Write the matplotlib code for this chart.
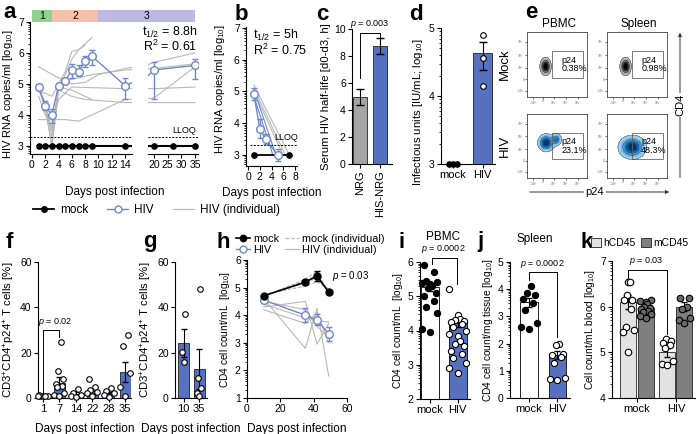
import numpy as np
import matplotlib
matplotlib.use("Agg")
import matplotlib.pyplot as plt
from matplotlib.patches import Rectangle, FancyArrowPatch, Patch
from matplotlib.lines import Line2D
from matplotlib.ticker import FixedLocator

plt.rcParams["font.family"] = ["Liberation Sans", "DejaVu Sans"]
plt.rcParams["mathtext.fontset"] = "custom"
plt.rcParams["mathtext.rm"] = "Liberation Sans"
plt.rcParams["mathtext.it"] = "Liberation Sans:italic"
plt.rcParams["font.size"] = 7.5
plt.rcParams["axes.linewidth"] = 0.8

W, H = 696, 434

BLUE = "#5671c0"
LINE_BLUE = "#7088c8"
GREY_LINE = "#b8b8b8"
EDGE = "#222222"

# ------------------------------------------------------------------ #
# data                               #
# ------------------------------------------------------------------ #
phase_bounds = [0, 3, 10, 35]
phase_labels = ["1", "2", "3"]
phase_colors = ["#8fd38f", "#f6c1a8", "#bdb9e3"]

a_days = [1, 2, 3, 4, 5, 6, 7, 8, 9, 14, 20, 35]
a_hiv = [4.9, 4.3, 4.0, 4.95, 5.1, 5.45, 5.4, 5.75, 5.9, 4.95, 5.45, 5.6]
a_err_lo = [0.1, 0.15, 0.25, 0.07, 0.1, 0.25, 0.15, 0.2, 0.3, 0.45, 0.95, 0.45]
a_err_hi = [0.1, 0.15, 0.2, 0.07, 0.1, 0.2, 0.2, 0.15, 0.2, 0.25, 0.27, 0.2]
a_mock_days = [1, 2, 3, 4, 5, 6, 7, 8, 9, 14, 20, 27, 35]
a_mock = [3.0, 3.0, 3.0, 3.0, 3.0, 3.0, 3.0, 3.0, 3.0, 3.0, 3.0, 3.0, 3.0]
a_indiv_days = [
    [1, 2, 3, 4, 5, 6, 7, 8, 9],
    [1, 2, 3, 4, 5, 6, 7, 8],
    [1, 4, 6, 8, 10, 14, 20, 35],
    [1, 2, 3, 4, 5, 7, 9, 14, 20, 35],
    [1, 2, 3, 4, 6, 8, 14, 20, 35],
    [1, 3, 5, 7, 14, 20, 35],
    [1, 2, 3, 4, 5, 6, 14, 20, 35],
    [2, 3, 4, 6, 8, 9],
]
a_indiv_vals = [
    [4.95, 4.2, 3.0, 4.8, 5.3, 5.8, 6.1, 6.3, 6.5],
    [4.85, 4.4, 3.3, 5.0, 5.4, 6.05, 6.1, 6.25],
    [5.55, 5.2, 5.0, 5.05, 5.3, 5.5, 5.7, 6.0],
    [4.75, 4.7, 4.6, 5.0, 5.1, 5.2, 5.3, 5.45, 5.5, 5.65],
    [4.8, 4.3, 3.5, 4.8, 4.6, 4.5, 4.4, 4.4, 4.4],
    [3.85, 3.85, 3.85, 3.8, 4.5, 4.55, 5.55],
    [4.6, 4.0, 3.6, 4.5, 4.7, 4.9, 4.85, 4.85, 4.9],
    [4.3, 3.0, 4.9, 4.8, 4.6, 4.5],
]

b_days = [1, 2, 3, 5]
b_hiv = [4.92, 3.82, 3.5, 3.0]
b_err = [0.2, 0.3, 0.15, 0.2]
b_mock_days = [1, 5, 7]
b_mock = [3.0, 3.0, 3.0]
b_grey_fits = [([1, 7], [5.2, 3.0]), ([1, 6.3], [5.1, 3.0]), ([1, 5.8], [5.0, 3.05])]
b_blue_fits = [([1, 5], [5.05, 2.85]), ([1, 4.2], [4.85, 3.0])]

c_groups = ["NRG", "HIS-NRG"]
c_mean = [4.95, 8.75]
c_sem = [0.6, 0.6]

d_groups = ["mock", "HIV"]
d_mock_pts = [3.0, 3.0, 3.0]
d_hiv_pts = [4.9, 4.56, 4.15]
d_hiv_mean = 4.63
d_hiv_err = [[0.25], [0.16]]

e_cols = ["PBMC", "Spleen"]
e_rows = ["Mock", "HIV"]
e_freq = [["0.38%", "0.98%"], ["23.1%", "48.3%"]]

f_days = ["1", "7", "14", "22", "28", "35"]
f_mean = [1.0, 6.8, 1.8, 3.0, 2.0, 11.5]
f_sem = [0.1, 2.3, 0.7, 1.1, 0.8, 4.5]
f_pts = [
    [1.0, 0.8, 1.2, 1.0, 0.9, 1.1],
    [24.5, 12.0, 8.5, 6.0, 5.5, 5.0, 2.0, 1.5, 1.0],
    [4.0, 2.2, 1.5, 1.0, 0.5],
    [8.5, 5.0, 3.5, 2.5, 2.2, 1.0],
    [4.5, 3.0, 2.0, 1.2, 0.5],
    [28.0, 23.0, 11.0, 5.0, 1.0],
]

g_days = ["10", "35"]
g_mean = [24.4, 12.8]
g_sem = [6.2, 9.0]
g_pts = [[37.0, 20.5, 16.0], [48.0, 9.0, 4.4, 2.2, 1.0]]

h_days = [10, 35, 42, 49]
h_mock = [4.7, 5.2, 5.42, 4.84]
h_mock_err = [0.05, 0.07, 0.17, 0.06]
h_hiv = [4.55, 4.0, 3.83, 3.32]
h_hiv_err = [0.08, 0.25, 0.2, 0.25]
h_mock_indiv = [
    [4.72, 5.15, 5.55, 4.75],
    [4.7, 5.25, 5.3, 4.9],
    [4.75, 5.05, 5.2, 4.95],
    [4.68, 5.3, 5.6, 4.8],
]
h_hiv_indiv = [
    [4.6, 2.8, 4.25, 1.8],
    [4.3, 4.5, 2.95, 3.7],
    [4.4, 3.9, 3.8, 3.75],
    [4.2, 3.7, 4.1, 3.0],
    [4.5, 4.2, 3.6, 3.2],
]

i_mock_pts = [5.9, 5.7, 5.45, 5.42, 5.4, 5.35, 5.3, 5.25, 5.1, 5.0, 4.85, 4.7, 4.5, 4.05, 3.95]
i_hiv_pts = [5.2, 4.45, 4.35, 4.3, 4.28, 4.25, 4.2, 4.1, 4.0, 3.9, 3.85, 3.7, 3.6, 3.55,
             3.4, 3.3, 3.2, 3.05, 2.9, 2.75]
i_mean = [5.28, 4.25]
i_sem = [0.12, 0.15]

j_mock_pts = [4.12, 3.85, 3.8, 3.65, 3.5, 3.25, 2.75, 2.6, 2.55]
j_hiv_pts = [2.0, 1.95, 1.6, 1.58, 1.5, 1.3, 0.75, 0.7, 0.68]
j_mean = [3.52, 1.58]
j_sem = [0.17, 0.13]

k_groups = ["mock", "HIV"]
k_h_mean = [6.1, 5.0]
k_h_sem = [0.15, 0.1]
k_m_mean = [5.97, 6.0]
k_m_sem = [0.04, 0.1]
k_h_pts = [[6.55, 6.55, 6.25, 6.15, 6.15, 5.95, 5.55, 5.5, 5.45, 5.0],
           [5.3, 5.25, 5.2, 5.15, 5.1, 4.8, 4.75, 4.72]]
k_m_pts = [[6.15, 6.12, 6.1, 6.05, 6.0, 5.98, 5.95, 5.9, 5.88, 5.85, 5.8, 5.75],
           [6.2, 6.18, 6.0, 5.95, 5.75, 5.7, 5.65]]

# ------------------------------------------------------------------ #
# helpers                                                            #
# ------------------------------------------------------------------ #
fig = plt.figure(figsize=(W / 100, H / 100), dpi=100)


def px_axes(x0, y0, x1, y1):
    return fig.add_axes([x0 / W, 1 - y1 / H, (x1 - x0) / W, (y1 - y0) / H])


def ftext(x, y, s, **kw):
    return fig.text(x / W, 1 - y / H, s, **kw)


def style(ax):
    for s in ("top", "right"):
        ax.spines[s].set_visible(False)
    ax.tick_params(length=3, width=0.8, pad=1.5, labelsize=7.5)


def log_minor(ax, lo, hi):
    mt = [d + np.log10(k) for d in range(lo, hi) for k in range(2, 10)]
    ax.yaxis.set_minor_locator(FixedLocator(mt))
    ax.tick_params(axis="y", which="minor", length=1.6, width=0.6)


def swarm(vals, width):
    pattern = np.array([0, -1, 1, -0.5, 0.5, -0.75, 0.75, -0.25, 0.25])
    order = np.argsort(vals)
    off = np.zeros(len(vals))
    for rank, idx in enumerate(order):
        off[idx] = pattern[rank % len(pattern)] * width
    return off


def dots(ax, x, pts, width, fc, s=16):
    ax.scatter(x + swarm(pts, width), pts, s=s, fc=fc, ec="k", lw=0.8,
               zorder=4, clip_on=False)


def bracket(ax, x0, x1, y, y0, y1, label, tx, ty, ha="center"):
    ax.plot([x0, x0, x1, x1], [y0, y, y, y1], color="k", lw=0.7, clip_on=False, zorder=5)
    ax.text(tx, ty, label, ha=ha, va="bottom", fontsize=6.5, clip_on=False)


YL = dict(fontsize=8.2, labelpad=2)
YL_SMALL = dict(fontsize=7.3, labelpad=2)

# ------------------------------------------------------------------ #
# a                                                                  #
# ------------------------------------------------------------------ #
ax_a1 = px_axes(30, 22, 132, 154)
ax_a2 = px_axes(148, 22, 198, 154)
for ax, xl in ((ax_a1, (-0.3, 15.05)), (ax_a2, (17.8, 36.1))):
    style(ax)
    ax.set_xlim(xl)
    ax.set_ylim(2.74, 7)
    for d, v in zip(a_indiv_days, a_indiv_vals):
        ax.plot(d, v, color=GREY_LINE, lw=0.8, zorder=1)
    ax.axhline(3.3, color="k", ls=(0, (2, 1.5)), lw=0.7, zorder=2)
    ax.plot(a_mock_days, a_mock, "-o", color="k", ms=3.8, lw=1.5, zorder=3)
    ax.errorbar(a_days, a_hiv, yerr=[a_err_lo, a_err_hi], fmt="-o", color=LINE_BLUE,
                mfc="white", mec=LINE_BLUE, ms=5.5, lw=1, capsize=2.5, elinewidth=1,
                mew=1, zorder=4)
ax_a1.set_xticks(range(0, 15, 2))
ax_a1.set_yticks([3, 4, 5, 6, 7])
log_minor(ax_a1, 2, 7)
ax_a1.set_ylabel("HIV RNA copies/ml [log$_{10}$]", fontsize=8)
ax_a1.yaxis.set_label_coords(-0.15, 0.45)
ax_a2.set_xticks([20, 25, 30, 35])
ax_a2.spines["left"].set_visible(False)
ax_a2.set_yticks([])
ax_a2.text(35.5, 3.36, "LLOQ", ha="right", va="bottom", fontsize=6.5)
ax_a2.text(36, 6.65, "t$_{1/2}$ = 8.8h", ha="right", va="center", fontsize=9, clip_on=False)
ax_a2.text(36, 6.2, "R$^{2}$ = 0.61", ha="right", va="center", fontsize=9, clip_on=False)
ftext(115, 192, "Days post infection", ha="center", va="center", fontsize=8.5)

# phase bar, positioned through the data transforms of the two segments
fig.canvas.draw()
inv = fig.transFigure.inverted()
xs = [inv.transform(ax_a1.transData.transform((d, 0)))[0] for d in phase_bounds[:3]]
xs.append(inv.transform(ax_a2.transData.transform((phase_bounds[3], 0)))[0])
yb0, yb1 = 1 - 22 / H, 1 - 10 / H
for k in range(3):
    fig.add_artist(Rectangle((xs[k], yb0), xs[k + 1] - xs[k], yb1 - yb0,
                             transform=fig.transFigure, fc=phase_colors[k], ec="none"))
    fig.text((xs[k] + xs[k + 1]) / 2, (yb0 + yb1) / 2, phase_labels[k], ha="center",
             va="center", fontsize=7.5)

# ------------------------------------------------------------------ #
# b                                                                  #
# ------------------------------------------------------------------ #
ax_b = px_axes(246, 27, 297, 166)
style(ax_b)
ax_b.set_xlim(-0.34, 8.3)
ax_b.set_ylim(2.65, 7.03)
for xx, yy in b_grey_fits:
    ax_b.plot(xx, yy, color=GREY_LINE, lw=0.8, zorder=1)
for xx, yy in b_blue_fits:
    ax_b.plot(xx, yy, color=LINE_BLUE, lw=0.8, zorder=2)
ax_b.axhline(3.3, xmin=0.08, color="k", ls=(0, (2, 1.5)), lw=0.7)
ax_b.plot(b_mock_days, b_mock, "-o", color="k", ms=3.8, lw=1.3, zorder=3)
ax_b.errorbar(b_days, b_hiv, yerr=b_err, fmt="-o", color=LINE_BLUE, mfc="white",
              mec=LINE_BLUE, ms=5.5, lw=1, capsize=2.5, mew=1, zorder=4)
ax_b.set_xticks([0, 2, 4, 6, 8])
ax_b.set_yticks([3, 4, 5, 6, 7])
log_minor(ax_b, 2, 7)
ax_b.set_ylabel("HIV RNA copies/ml [log$_{10}$]", fontsize=8)
ax_b.yaxis.set_label_coords(-0.38, 0.55)
ax_b.text(8.4, 3.4, "LLOQ", ha="right", va="bottom", fontsize=6.5, clip_on=False)
ax_b.text(0.9, 6.75, "t$_{1/2}$ = 5h", ha="left", va="center", fontsize=9)
ax_b.text(0.9, 6.3, "R$^{2}$ = 0.75", ha="left", va="center", fontsize=9)
ftext(272, 193, "Days post infection", ha="center", va="center", fontsize=8.5)

# legend for a/b
hdl = [Line2D([], [], color="k", marker="o", ms=4, lw=1.3),
       Line2D([], [], color=LINE_BLUE, marker="o", mfc="white", ms=5, lw=1),
       Line2D([], [], color=GREY_LINE, lw=0.9)]
fig.legend(hdl, ["mock", "HIV", "HIV (individual)"], ncol=3, loc="center left",
           bbox_to_anchor=(27 / W, 1 - 210 / H), frameon=False, fontsize=8.5,
           handlelength=1.8, handletextpad=0.5, columnspacing=1.6, borderpad=0)

# ------------------------------------------------------------------ #
# c                                                                  #
# ------------------------------------------------------------------ #
ax_c = px_axes(352, 29, 392, 164)
style(ax_c)
xc = np.arange(len(c_groups))
ax_c.bar(xc, c_mean, width=0.7, color=["#a5a5a5", BLUE], edgecolor=EDGE, lw=0.6)
ax_c.errorbar(xc, c_mean, yerr=c_sem, fmt="none", ecolor="k", elinewidth=0.8, capsize=3)
ax_c.set_xlim(-0.4, 1.6)
ax_c.set_ylim(0, 10)
ax_c.set_yticks(range(0, 11, 2))
ax_c.set_xticks(xc)
ax_c.set_xticklabels(c_groups, rotation=90, fontsize=8)
ax_c.set_ylabel("Serum HIV half-life [d0-d3, h]", **YL)
bracket(ax_c, 0, 1, 9.7, 6.4, 9.36, "$p$ = 0.003", 0.5, 9.9)

# ------------------------------------------------------------------ #
# d                                                                  #
# ------------------------------------------------------------------ #
ax_d = px_axes(441, 28, 495, 164)
style(ax_d)
ax_d.set_xlim(-0.41, 1.42)
ax_d.set_ylim(3, 5)
ax_d.bar([1], [d_hiv_mean - 3], bottom=3, width=0.66, color=BLUE, edgecolor=EDGE, lw=0.6)
ax_d.errorbar([1], [d_hiv_mean], yerr=d_hiv_err, fmt="none", ecolor="k", elinewidth=0.8,
              capsize=3)
ax_d.scatter(np.array([-0.14, 0.0, 0.14]), d_mock_pts, s=14, c="k", zorder=4, clip_on=False)
ax_d.scatter(np.ones(len(d_hiv_pts)), d_hiv_pts, s=16, fc="white", ec="k", lw=0.8, zorder=4)
ax_d.set_xticks([0, 1])
ax_d.set_xticklabels(d_groups, fontsize=8)
ax_d.set_yticks([3, 4, 5])
log_minor(ax_d, 3, 5)
ax_d.set_ylabel("Infectious units [IU/mL; log$_{10}$]", **YL)
ax_d.yaxis.set_label_coords(-0.3, 0.38)

# ------------------------------------------------------------------ #
# e  (flow cytometry panels)                                         #
# ------------------------------------------------------------------ #
e_boxes = [[(527, 32, 587, 97), (607, 32, 667, 97)],
           [(527, 114, 587, 178), (607, 114, 667, 178)]]
gx, gy = np.meshgrid(np.linspace(0, 1, 160), np.linspace(0, 1, 160))


def blob(cx, cy, sx, sy, amp=1.0):
    return amp * np.exp(-((gx - cx) ** 2 / (2 * sx ** 2) + (gy - cy) ** 2 / (2 * sy ** 2)))


e_density = [
    [blob(0.31, 0.47, 0.04, 0.06), blob(0.31, 0.47, 0.04, 0.06)],
    [blob(0.32, 0.55, 0.06, 0.06) + blob(0.48, 0.6, 0.045, 0.045, 0.6),
     blob(0.42, 0.48, 0.1, 0.08)],
]
for r in range(2):
    for c in range(2):
        ax = px_axes(*e_boxes[r][c])
        z = e_density[r][c]
        cmap = plt.cm.Greys if r == 0 else plt.cm.Blues
        lv = np.linspace(0.06, 1.0, 9) * z.max()
        ax.contourf(gx, gy, z, levels=lv, colors=cmap(np.linspace(0.35, 1.0, 8)))
        ax.contour(gx, gy, z, levels=lv[::2], colors=[cmap(0.9)], linewidths=0.3)
        ax.add_patch(Rectangle((0.41, 0.3), 0.53, 0.41, fill=False, ec="#666666", lw=0.6,
                               transform=ax.transAxes))
        ax.text(0.57, 0.5, "p24\n" + e_freq[r][c], ha="left", va="center", fontsize=6.5,
                linespacing=0.95)
        ax.set_xlim(0, 1)
        ax.set_ylim(0, 1)
        ax.set_xticks([0.1, 0.27, 0.45, 0.65, 0.85])
        ax.set_xticklabels(["-10$^3$", "0", "10$^3$", "10$^4$", "10$^5$"], fontsize=2.5,
                           color="#666666")
        ax.set_yticks([0.1, 0.27, 0.45, 0.65, 0.85])
        ax.set_yticklabels(["-10$^3$", "0", "10$^3$", "10$^4$", "10$^5$"], fontsize=2.5,
                           color="#666666")
        ax.tick_params(length=1.2, width=0.4, pad=0.5)
        for sp in ax.spines.values():
            sp.set_linewidth(0.6)
            sp.set_color("#444444")
        if r == 0:
            ftext((e_boxes[r][c][0] + e_boxes[r][c][2]) / 2 + 2, 24, e_cols[c],
                  ha="center", va="center", fontsize=8.5)
    ftext(505, (e_boxes[r][0][1] + e_boxes[r][0][3]) / 2, e_rows[r], rotation=90,
          ha="center", va="center", fontsize=9.5)

fig.add_artist(FancyArrowPatch((680 / W, 1 - 180 / H), (680 / W, 1 - 30 / H),
                               transform=fig.transFigure, arrowstyle="-|>",
                               mutation_scale=5, lw=0.7, color="#333333"))
ftext(680, 105, "CD4", rotation=90, ha="center", va="center", fontsize=8,
      bbox=dict(fc="white", ec="none", pad=1))
fig.add_artist(FancyArrowPatch((527 / W, 1 - 192 / H), (672 / W, 1 - 192 / H),
                               transform=fig.transFigure, arrowstyle="-|>",
                               mutation_scale=5, lw=0.7, color="#333333"))
ftext(595, 192, "p24", ha="center", va="center", fontsize=8,
      bbox=dict(fc="white", ec="none", pad=1))

# ------------------------------------------------------------------ #
# f                                                                  #
# ------------------------------------------------------------------ #
ax_f = px_axes(38, 262, 131, 398)
style(ax_f)
xf = np.arange(len(f_days))
ax_f.bar(xf, f_mean, width=0.65, color=BLUE, edgecolor=EDGE, lw=0.6)
ax_f.errorbar(xf, f_mean, yerr=f_sem, fmt="none", ecolor="k", elinewidth=0.8, capsize=2)
for i, pts in enumerate(f_pts):
    dots(ax_f, i, pts, 0.3, "white")
ax_f.set_xlim(-0.3, 5.35)
ax_f.set_ylim(0, 60)
ax_f.set_yticks([0, 20, 40, 60])
ax_f.set_xticks(xf)
ax_f.set_xticklabels(f_days, fontsize=8)
ax_f.set_ylabel("CD3$^{+}$CD4$^{+}$p24$^{+}$ T cells [%]", **YL)
ax_f.set_xlabel("Days post infection", fontsize=8.5, labelpad=6)
bracket(ax_f, 0, 1, 30, 2, 27, "$p$ = 0.02", -0.3, 31, ha="left")

# ------------------------------------------------------------------ #
# g                                                                  #
# ------------------------------------------------------------------ #
ax_g = px_axes(175, 262, 207, 398)
style(ax_g)
xg = np.arange(len(g_days))
ax_g.bar(xg, g_mean, width=0.7, color=BLUE, edgecolor=EDGE, lw=0.6)
ax_g.errorbar(xg, g_mean, yerr=g_sem, fmt="none", ecolor="k", elinewidth=0.8, capsize=2)
for i, pts in enumerate(g_pts):
    dots(ax_g, i, pts, 0.12, "white")
ax_g.set_xlim(-0.55, 1.5)
ax_g.set_ylim(0, 60)
ax_g.set_yticks([0, 20, 40, 60])
ax_g.set_xticks(xg)
ax_g.set_xticklabels(g_days, fontsize=8)
ax_g.set_ylabel("CD3$^{+}$CD4$^{+}$p24$^{+}$ T cells [%]", **YL)
ax_g.set_xlabel("Days post infection", fontsize=8.5, labelpad=6)

# ------------------------------------------------------------------ #
# h                                                                  #
# ------------------------------------------------------------------ #
ax_h = px_axes(247, 260, 347, 398)
style(ax_h)
for v in h_mock_indiv:
    ax_h.plot(h_days, v, color=GREY_LINE, ls=(0, (3, 1.5)), lw=0.8, zorder=1)
for v in h_hiv_indiv:
    ax_h.plot(h_days, v, color=GREY_LINE, lw=0.8, zorder=1)
ax_h.errorbar(h_days, h_mock, yerr=h_mock_err, fmt="-o", color="k", ms=5, lw=1.2,
              capsize=2.5, zorder=4)
ax_h.errorbar(h_days, h_hiv, yerr=h_hiv_err, fmt="-o", color=LINE_BLUE, mfc="white",
              mec=LINE_BLUE, ms=5.5, lw=1, mew=1, capsize=2.5, zorder=3)
ax_h.set_xlim(0, 60)
ax_h.set_ylim(1, 6)
ax_h.set_xticks([0, 20, 40, 60])
ax_h.set_yticks([1, 2, 3, 4, 5, 6])
log_minor(ax_h, 1, 6)
ax_h.set_ylabel("CD4 cell count/mL  [log$_{10}$]", **YL_SMALL)
ax_h.set_xlabel("Days post infection", fontsize=8.5, labelpad=6)
ax_h.text(51, 5.15, "$p$ = 0.03", ha="left", va="bottom", fontsize=7)
hdl_h = [Line2D([], [], color="k", marker="o", ms=4.5, lw=1.2),
         Line2D([], [], color=LINE_BLUE, marker="o", mfc="white", ms=5, lw=1),
         Line2D([], [], color=GREY_LINE, ls=(0, (3, 1.5)), lw=0.9),
         Line2D([], [], color=GREY_LINE, lw=0.9)]
fig.legend(hdl_h, ["mock", "HIV", "mock (individual)", "HIV (individual)"], ncol=2,
           loc="upper left", bbox_to_anchor=(236 / W, 1 - 234 / H), frameon=False,
           fontsize=7.8, handlelength=1.3, handletextpad=0.25, columnspacing=0.6,
           labelspacing=0.1, borderpad=0, borderaxespad=0)

# ------------------------------------------------------------------ #
# i                                                                  #
# ------------------------------------------------------------------ #
ax_i = px_axes(420, 262, 470, 399)
style(ax_i)
ax_i.set_xlim(-0.36, 1.45)
ax_i.set_ylim(2, 6)
ax_i.bar([0, 1], [m - 2 for m in i_mean], bottom=2, width=0.65, color=["white", BLUE],
         edgecolor=EDGE, lw=0.7)
ax_i.errorbar([0, 1], i_mean, yerr=i_sem, fmt="none", ecolor="k", elinewidth=0.8, capsize=2)
dots(ax_i, 0, i_mock_pts, 0.27, "k", s=20)
dots(ax_i, 1, i_hiv_pts, 0.3, "white", s=20)
ax_i.set_xticks([0, 1])
ax_i.set_xticklabels(d_groups, fontsize=8)
ax_i.set_yticks([2, 3, 4, 5, 6])
log_minor(ax_i, 2, 6)
ax_i.set_ylabel("CD4 cell count/mL  [log$_{10}$]", **YL_SMALL)
bracket(ax_i, 0.06, 0.97, 6.12, 5.95, 5.35, "$p$ = 0.0002", 0.5, 6.2)
ftext(443, 237, "PBMC", ha="center", va="center", fontsize=8.5)

# ------------------------------------------------------------------ #
# j                                                                  #
# ------------------------------------------------------------------ #
ax_j = px_axes(510, 262, 570, 398)
style(ax_j)
ax_j.set_xlim(-0.67, 1.44)
ax_j.set_ylim(0, 5)
ax_j.bar([0, 1], j_mean, width=0.63, color=["white", BLUE], edgecolor=EDGE, lw=0.7)
ax_j.errorbar([0, 1], j_mean, yerr=j_sem, fmt="none", ecolor="k", elinewidth=0.8, capsize=2)
dots(ax_j, 0, j_mock_pts, 0.27, "k", s=20)
dots(ax_j, 1, j_hiv_pts, 0.27, "white", s=20)
ax_j.set_xticks([0, 1])
ax_j.set_xticklabels(d_groups, fontsize=8)
ax_j.set_yticks(range(6))
log_minor(ax_j, 0, 5)
ax_j.set_ylabel("CD4 cell count/mg tissue [log$_{10}$]", **YL_SMALL)
bracket(ax_j, 0.0, 0.97, 4.64, 4.34, 2.25, "$p$ = 0.0002", 0.48, 4.72)
ftext(535, 239, "Spleen", ha="center", va="center", fontsize=8.5)

# ------------------------------------------------------------------ #
# k                                                                  #
# ------------------------------------------------------------------ #
ax_k = px_axes(612, 261, 695, 398)
style(ax_k)
ax_k.set_xlim(-0.64, 1.49)
ax_k.set_ylim(4, 7)
xk = np.arange(len(k_groups))
off = 0.22
ax_k.bar(xk - off, [m - 4 for m in k_h_mean], bottom=4, width=0.41, color="#e2e2e2",
         edgecolor=EDGE, lw=0.6)
ax_k.bar(xk + off, [m - 4 for m in k_m_mean], bottom=4, width=0.41, color="#7f7f7f",
         edgecolor=EDGE, lw=0.6)
ax_k.errorbar(xk - off, k_h_mean, yerr=k_h_sem, fmt="none", ecolor="k", elinewidth=0.8,
              capsize=2)
ax_k.errorbar(xk + off, k_m_mean, yerr=k_m_sem, fmt="none", ecolor="k", elinewidth=0.8,
              capsize=2)
for g in range(2):
    dots(ax_k, g - off, k_h_pts[g], 0.14, "white", s=22)
    dots(ax_k, g + off, k_m_pts[g], 0.14, "#6a6a6a", s=22)
ax_k.set_xticks(xk)
ax_k.set_xticklabels(k_groups, fontsize=8)
ax_k.set_yticks([4, 5, 6, 7])
log_minor(ax_k, 4, 7)
ax_k.set_ylabel("Cell count/mL blood [log$_{10}$]", **YL_SMALL)
bracket(ax_k, -off, 1 - off, 6.8, 6.63, 5.4, "$p$ = 0.03", 0.25, 6.86)
fig.legend([Patch(fc="#e2e2e2", ec=EDGE, lw=0.6), Patch(fc="#7f7f7f", ec=EDGE, lw=0.6)],
           ["hCD45", "mCD45"], ncol=2, loc="center left",
           bbox_to_anchor=(591 / W, 1 - 243 / H), frameon=False, fontsize=7.5,
           handlelength=1.0, handleheight=0.9, handletextpad=0.2, columnspacing=0.5,
           borderpad=0, borderaxespad=0)

# ------------------------------------------------------------------ #
# panel letters                                                      #
# ------------------------------------------------------------------ #
letters = [("a", 3, 13), ("b", 235, 14), ("c", 316, 14), ("d", 409, 14), ("e", 525, 12),
           ("f", 6, 242), ("g", 143, 242), ("h", 216, 242), ("i", 398, 242),
           ("j", 477, 242), ("k", 580, 243)]
for s, x, y in letters:
    ftext(x, y, s, ha="left", va="center", fontsize=16, fontweight="bold")

fig.savefig("out.png", dpi=100)
